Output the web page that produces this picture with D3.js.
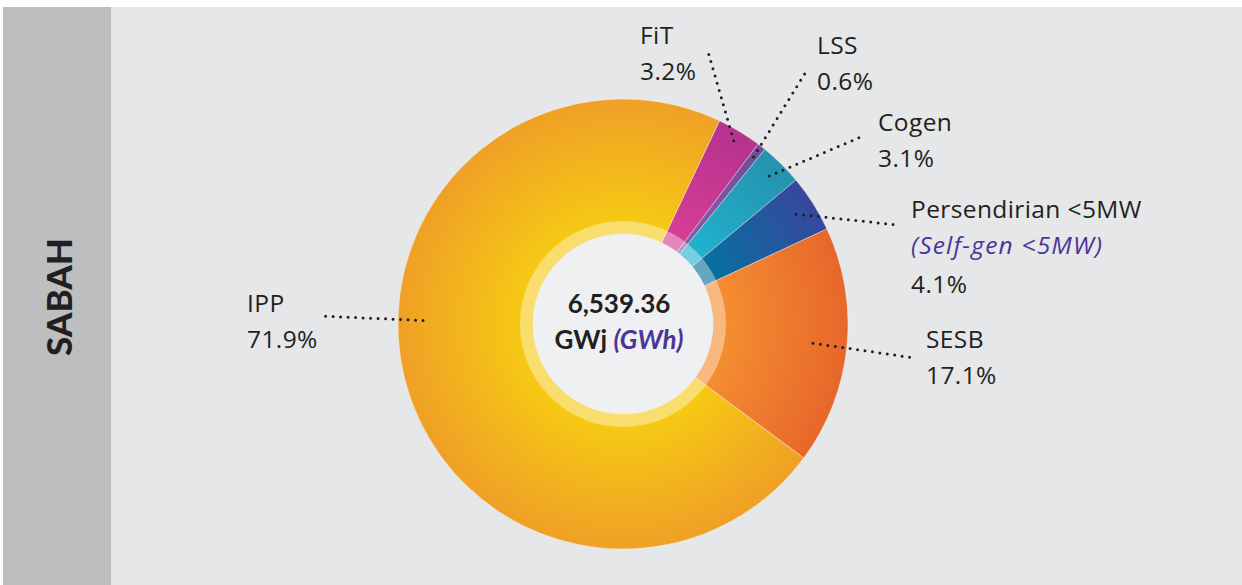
<!DOCTYPE html>
<html>
<head>
<meta charset="utf-8">
<script src="https://cdn.jsdelivr.net/npm/d3@7"></script>
<style>
  html, body { margin: 0; padding: 0; background: #fff; }
  svg { display: block; }
  text { font-family: Lato, "Open Sans", sans-serif; }
  text.label { font-family: "Open Sans", sans-serif; letter-spacing: 0.4px; }
</style>
</head>
<body>
<svg></svg>
<script>
// Sabah generation mix
var categories = ["FiT", "LSS", "Cogen", "Persendirian <5MW", "SESB", "IPP"];
var subLabels = ["", "", "", "(Self-gen <5MW)", "", ""];
var shares = [3.2, 0.6, 3.1, 4.1, 17.1, 71.9];
var totalLabel = "6,539.36";
var unitLabel = "GWj";
var unitLabelEn = "(GWh)";
var regionName = "SABAH";

var innerColors = ["#d63e95", "#8a5aa8", "#20b2cd", "#07709f", "#f48d31", "#f6c914"];
var outerColors = ["#b5328d", "#6f4c9c", "#2592ae", "#37479d", "#e7672a", "#efa026"];

var svgWidth = 1242;
var svgHeight = 585;
var cx = 623, cy = 324;
var outerR = 225, ringR = 103, holeR = 90;

var svg = d3.select("svg")
	.attr("width", svgWidth)
	.attr("height", svgHeight);

// background panels
svg.append("rect").attr("x", 3).attr("y", 7).attr("width", svgWidth - 3).attr("height", svgHeight - 7).attr("fill", "#e6e7e8");
svg.append("rect").attr("x", 3).attr("y", 7).attr("width", 108).attr("height", svgHeight - 7).attr("fill", "#bcbec0");

svg.append("text")
	.attr("transform", "translate(72,297) rotate(-90)")
	.attr("text-anchor", "middle")
	.attr("font-size", 35)
	.attr("font-weight", 900)
	.attr("fill", "#231f20")
	.text(regionName);

var defs = svg.append("defs");
shares.forEach(function(d, i) {
	// gradient lives in the chart group's coordinates, so centre is 0,0
	var g = defs.append("radialGradient")
		.attr("id", "grad" + i)
		.attr("gradientUnits", "userSpaceOnUse")
		.attr("cx", 0).attr("cy", 0).attr("r", outerR);
	g.append("stop").attr("offset", ringR / outerR).attr("stop-color", innerColors[i]);
	g.append("stop").attr("offset", 1).attr("stop-color", outerColors[i]);
});

var start = 25.4 * Math.PI / 180;
var pie = d3.pie().sort(null).value(function(d) { return d; })
	.startAngle(start).endAngle(start + 2 * Math.PI);
var arcs = pie(shares);

var arc = d3.arc().innerRadius(holeR).outerRadius(outerR);

var chart = svg.append("g").attr("transform", "translate(" + cx + "," + cy + ")");

chart.selectAll("path.slice")
	.data(arcs)
	.enter()
	.append("path")
	.attr("class", "slice")
	.attr("d", arc)
	.attr("fill", function(d, i) { return "url(#grad" + i + ")"; })
	.attr("stroke", "rgba(255,255,255,0.45)")
	.attr("stroke-width", 0.8);

// light ring and centre disc
chart.append("path")
	.attr("d", d3.arc().innerRadius(holeR).outerRadius(ringR).startAngle(0).endAngle(2 * Math.PI)())
	.attr("fill", "rgba(255,255,255,0.38)");
chart.append("circle").attr("r", holeR).attr("fill", "#eef0f1");

chart.append("text")
	.attr("x", -4).attr("y", -11)
	.attr("text-anchor", "middle")
	.attr("font-size", 26)
	.attr("font-weight", 700)
	.attr("fill", "#231f20")
	.text(totalLabel);

var unit = chart.append("text")
	.attr("x", -4).attr("y", 25)
	.attr("text-anchor", "middle")
	.attr("font-size", 26)
	.attr("font-weight", 700)
	.attr("fill", "#231f20");
unit.append("tspan").text(unitLabel + " ");
unit.append("tspan").attr("font-style", "italic").attr("fill", "#4b3597").text(unitLabelEn);

// label layout: text anchor, outer end of leader, leader radius and angle override
var labelX = [640, 817, 878, 911, 926, 247];
var labelY = [44, 54, 131, 218, 348, 312];
var leadX = [707, 807, 863, 898, 915, 320];
var leadY = [48, 70, 136, 225, 358, 316];
var leadR = [214, 212, 208, 205, 191, 200];

var leaders = chart.selectAll("line.leader")
	.data(arcs)
	.enter()
	.append("line")
	.attr("class", "leader")
	.each(function(d, i) {
		var a = (i === 5) ? 271 * Math.PI / 180 : (d.startAngle + d.endAngle) / 2;
		d3.select(this)
			.attr("x1", leadR[i] * Math.sin(a))
			.attr("y1", -leadR[i] * Math.cos(a))
			.attr("x2", leadX[i] - cx)
			.attr("y2", leadY[i] - cy);
	})
	.attr("stroke", "#231f20")
	.attr("stroke-width", 3)
	.attr("stroke-linecap", "round")
	.attr("stroke-dasharray", "0 7.5");

var labels = svg.selectAll("text.label")
	.data(arcs)
	.enter()
	.append("text")
	.attr("class", "label")
	.attr("x", function(d, i) { return labelX[i]; })
	.attr("y", function(d, i) { return labelY[i]; })
	.attr("font-size", 24.5)
	.attr("font-weight", 400)
	.attr("fill", "#231f20");

labels.append("tspan")
	.text(function(d, i) { return categories[i]; });

labels.filter(function(d, i) { return subLabels[i] !== ""; })
	.append("tspan")
	.attr("x", labelX[3])
	.attr("dy", 36)
	.attr("font-style", "italic")
	.attr("fill", "#4b3597")
	.attr("letter-spacing", 1.2)
	.text(function(d) { return subLabels[d.index]; });

labels.append("tspan")
	.attr("x", function(d, i) { return labelX[i]; })
	.attr("dy", function(d, i) { return subLabels[i] !== "" ? 38.5 : 36; })
	.text(function(d) { return d.data.toFixed(1) + "%"; });
</script>
</body>
</html>
